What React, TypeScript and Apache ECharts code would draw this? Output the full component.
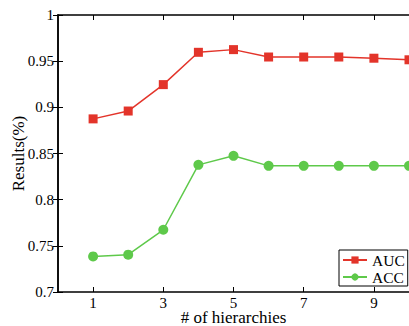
import React, { useEffect, useRef } from "react";
import * as echarts from "echarts";

const xValues = [1, 2, 3, 4, 5, 6, 7, 8, 9, 10];
const aucValues = [0.8875, 0.896, 0.9246, 0.9596, 0.9625, 0.9545, 0.9545, 0.9545, 0.9532, 0.9515];
const accValues = [0.7385, 0.7404, 0.7674, 0.8377, 0.8475, 0.8366, 0.8366, 0.8366, 0.8366, 0.8366];
const xTickValues = [1, 3, 5, 7, 9];
const seriesNames = ["AUC", "ACC"];

const FONT = "'Times New Roman', 'Liberation Serif', serif";
const RED = "#e3342a";
const GREEN = "#5ec94a";

export default function App() {
  const ref = useRef<HTMLDivElement>(null);
  useEffect(() => {
    document.body.style.margin = "0";
    const chart = echarts.init(ref.current!, null, { renderer: "svg" });
    const axisLine = { show: true, lineStyle: { color: "#000", width: 1.5 } };
    const tick = { show: true, inside: true, length: 5, lineStyle: { color: "#000", width: 1 } };
    chart.setOption({
      animation: false,
      backgroundColor: "#fff",
      grid: { left: 58, right: 0, top: 15, bottom: 34, containLabel: false, outerBoundsMode: "none" },
      legend: {
        orient: "vertical",
        left: 339,
        top: 250,
        padding: [2, 3, 1, 3],
        itemGap: 1,
        itemWidth: 24,
        itemHeight: 9,
        borderColor: "#000",
        borderWidth: 1,
        borderRadius: 0,
        backgroundColor: "#fff",
        textStyle: { fontFamily: FONT, fontSize: 15.5, lineHeight: 16, color: "#000" },
        data: seriesNames,
      },
      xAxis: [
        {
          type: "value",
          min: 0,
          max: 10,
          position: "bottom",
          name: "# of hierarchies",
          nameLocation: "middle",
          nameGap: 17.5,
          nameMoveOverlap: false,
          nameTextStyle: { fontFamily: FONT, fontSize: 17, lineHeight: 16, color: "#000" },
          axisLine,
          axisTick: { ...tick, customValues: xTickValues },
          axisLabel: { customValues: xTickValues, fontFamily: FONT, fontSize: 15, lineHeight: 13, color: "#000", margin: 4 },
          splitLine: { show: false },
        },
        {
          type: "value",
          min: 0,
          max: 10,
          position: "top",
          axisLine,
          axisTick: { ...tick, customValues: xTickValues },
          axisLabel: { show: false, customValues: xTickValues },
          splitLine: { show: false },
        },
      ],
      yAxis: [
        {
          type: "value",
          min: 0.7,
          max: 1,
          interval: 0.05,
          position: "left",
          name: "Results(%)",
          nameLocation: "middle",
          nameGap: 31,
          nameMoveOverlap: false,
          nameTextStyle: { fontFamily: FONT, fontSize: 17, lineHeight: 17, color: "#000" },
          axisLine,
          axisTick: tick,
          axisLabel: { fontFamily: FONT, fontSize: 15, color: "#000", margin: 4 },
          splitLine: { show: false },
        },
        {
          type: "value",
          min: 0.7,
          max: 1,
          interval: 0.05,
          position: "right",
          axisLine,
          axisTick: tick,
          axisLabel: { show: false },
          splitLine: { show: false },
        },
      ],
      series: [
        {
          name: seriesNames[0],
          type: "line",
          data: xValues.map((x, i) => [x, aucValues[i]]),
          symbol: "rect",
          symbolSize: 9,
          itemStyle: { color: RED },
          lineStyle: { color: RED, width: 1.5 },
          clip: false,
        },
        {
          name: seriesNames[1],
          type: "line",
          data: xValues.map((x, i) => [x, accValues[i]]),
          symbol: "circle",
          symbolSize: 10,
          itemStyle: { color: GREEN },
          lineStyle: { color: GREEN, width: 1.5 },
          clip: false,
        },
      ],
    });
    return () => chart.dispose();
  }, []);
  return <div ref={ref} style={{ width: 409, height: 326 }} />;
}
